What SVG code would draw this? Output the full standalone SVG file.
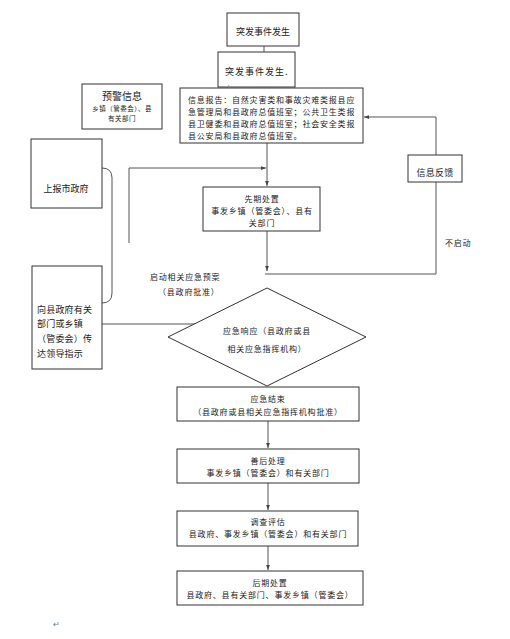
<svg xmlns="http://www.w3.org/2000/svg" width="510" height="639" viewBox="0 0 510 639">
<style>
.box{fill:#fff;stroke:#333;stroke-width:1}
.ln{fill:none;stroke:#555;stroke-width:1}
text{font-family:"Noto Sans CJK SC","Liberation Sans",sans-serif;font-size:8px;letter-spacing:0.8px;fill:#222;dominant-baseline:central}
.c{text-anchor:middle}
</style>
<defs>
<marker id="ah" viewBox="0 0 8 8" refX="8" refY="4" markerWidth="5" markerHeight="5" orient="auto" markerUnits="userSpaceOnUse">
<path d="M0,1 L8,4 L0,7 z" fill="#444"/>
</marker>
</defs>
<rect width="510" height="639" fill="#fff"/>
<g id="connectors">
<line class="ln" x1="264" y1="46" x2="264" y2="52"/>
<path class="ln" d="M436,182 V274 H265"/>
<path class="ln" d="M436,155 V117 H364" marker-end="url(#ah)"/>
<line class="ln" x1="267" y1="143" x2="267" y2="186" marker-end="url(#ah)"/>
<path class="ln" d="M129,243 V168 H266" marker-end="url(#ah)"/>
<line class="ln" x1="267" y1="231" x2="267" y2="271" marker-end="url(#ah)"/>
<path class="ln" d="M102,168 Q112,168 112,178 V293 Q112,303 102,303"/>
<line class="ln" x1="102" y1="324" x2="195" y2="324"/>
<line class="ln" x1="268" y1="421" x2="268" y2="448" marker-end="url(#ah)"/>
<line class="ln" x1="268" y1="483" x2="268" y2="510" marker-end="url(#ah)"/>
<line class="ln" x1="268" y1="546" x2="268" y2="570" marker-end="url(#ah)"/>
<text x="445" y="242">不启动</text>
<text x="150" y="276">启动相关应急预案</text>
<text x="158" y="291">（县政府批准）</text>
</g>
<g id="n1"><rect class="box" x="227" y="13" width="72" height="33"/><text class="c" x="263" y="31" style="font-size:9px;letter-spacing:0">突发事件发生</text></g>
<g id="n2"><rect class="box" x="218" y="52" width="77" height="35"/><text x="225" y="71" style="font-size:9px;letter-spacing:1px">突发事件发生.</text><text x="228" y="83" style="font-size:5px;letter-spacing:0">.</text></g>
<g id="n3"><rect class="box" x="180" y="88" width="183" height="55"/>
<text x="188" y="99">信息报告：自然灾害类和事故灾难类报县应</text>
<text x="188" y="111">急管理局和县政府总值班室；公共卫生类报</text>
<text x="188" y="123">县卫健委和县政府总值班室；社会安全类报</text>
<text x="188" y="135">县公安局和县政府总值班室。</text></g>
<g id="n4"><rect class="box" x="82" y="84" width="80" height="45"/>
<text class="c" x="122" y="95" style="font-size:10px;letter-spacing:0">预警信息</text>
<text class="c" x="122" y="108" style="font-size:6.5px;letter-spacing:0.5px">乡镇（管委会）、县</text>
<text class="c" x="122" y="118" style="font-size:6.5px;letter-spacing:0.5px">有关部门</text></g>
<g id="n5"><rect class="box" x="408" y="155" width="54" height="27"/><text class="c" x="435" y="172" style="font-size:9px;letter-spacing:0.3px">信息反馈</text></g>
<g id="n6"><rect class="box" x="31" y="139" width="71" height="69"/><text class="c" x="66" y="188" style="font-size:9px;letter-spacing:0">上报市政府</text></g>
<g id="n7"><rect class="box" x="203" y="187" width="117" height="44"/>
<text class="c" x="262" y="198">先期处置</text>
<text class="c" x="262" y="210">事发乡镇（管委会）、县有</text>
<text class="c" x="262" y="222">关部门</text></g>
<g id="n8"><rect class="box" x="32" y="266" width="70" height="103"/>
<text x="37" y="309" style="font-size:9px;letter-spacing:0.2px">向县政府有关</text>
<text x="37" y="323" style="font-size:9px;letter-spacing:0.2px">部门或乡镇</text>
<text x="37" y="338" style="font-size:9px;letter-spacing:0.2px">（管委会）传</text>
<text x="37" y="353" style="font-size:9px;letter-spacing:0.2px">达领导指示</text></g>
<g id="n9"><path class="box" d="M267,288 L366,337 L267,386 L168,337 Z"/>
<text class="c" x="267" y="330">应急响应（县政府或县</text>
<text class="c" x="267" y="348">相关应急指挥机构）</text></g>
<g id="n10"><rect class="box" x="177" y="387" width="182" height="34"/>
<text class="c" x="268" y="398">应急结束</text>
<text class="c" x="268" y="411">（县政府或县相关应急指挥机构批准）</text></g>
<g id="n11"><rect class="box" x="177" y="449" width="182" height="34"/>
<text class="c" x="268" y="460">善后处理</text>
<text class="c" x="268" y="472">事发乡镇（管委会）和有关部门</text></g>
<g id="n12"><rect class="box" x="177" y="511" width="181" height="35"/>
<text class="c" x="268" y="521">调查评估</text>
<text class="c" x="268" y="533">县政府、事发乡镇（管委会）和有关部门</text></g>
<g id="n13"><rect class="box" x="177" y="571" width="186" height="34"/>
<text class="c" x="270" y="582">后期处置</text>
<text class="c" x="270" y="594">县政府、县有关部门、事发乡镇（管委会）</text></g>
<text x="53" y="623" style="fill:#777;letter-spacing:0">↵</text>
</svg>
